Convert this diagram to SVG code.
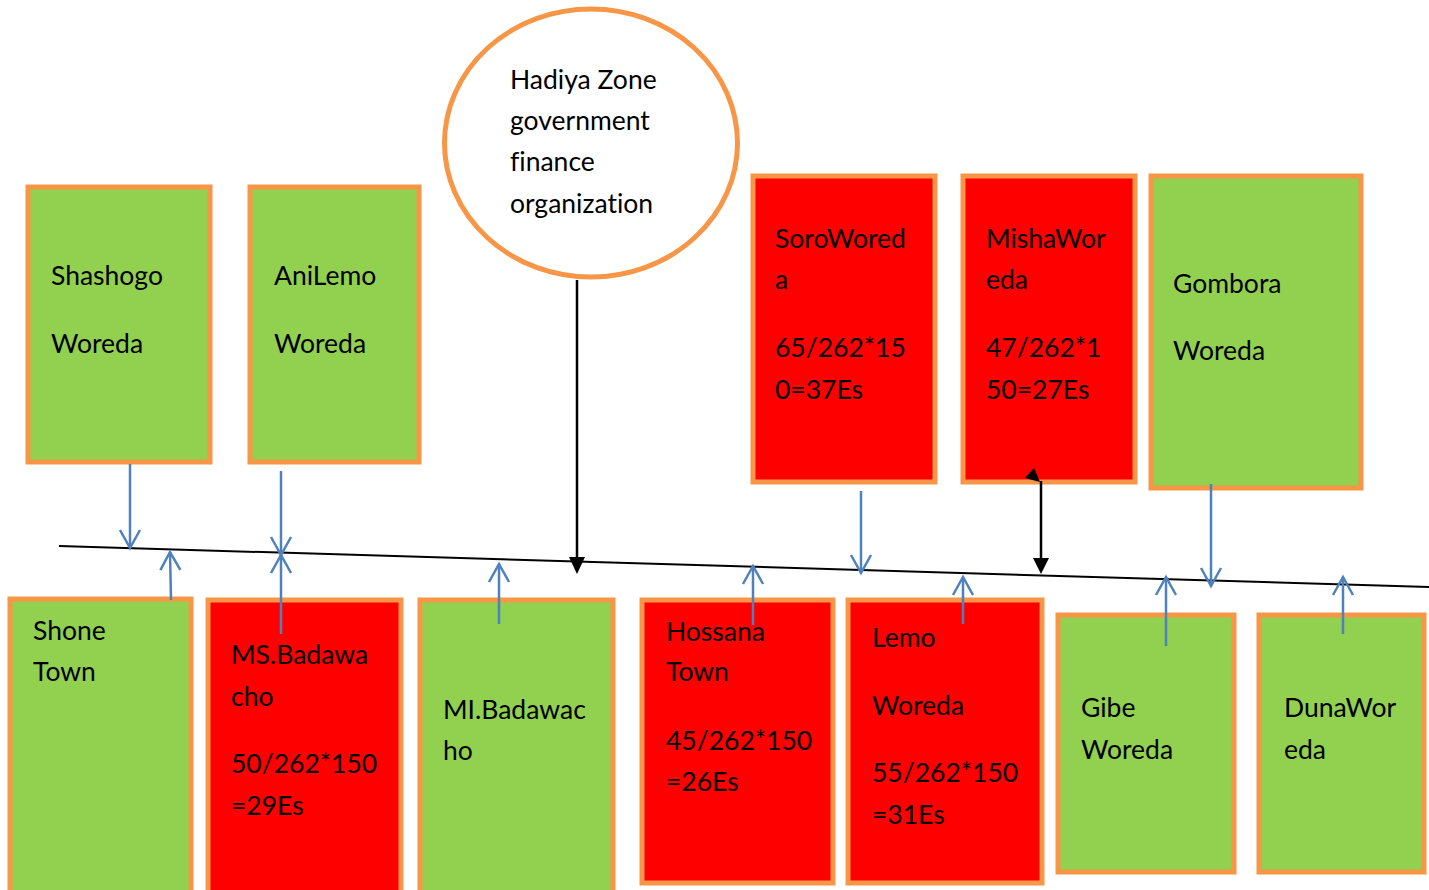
<svg xmlns="http://www.w3.org/2000/svg" width="1429" height="890" viewBox="0 0 1429 890">
<defs>
<style>
.g{fill:#92D050;stroke:#F79646;stroke-width:5}
.r{fill:#FF0000;stroke:#F79646;stroke-width:5}
text{font-family:Lato,"Liberation Sans",sans-serif;font-size:26.5px;fill:#000;font-variant-ligatures:none}
.b{stroke:#4F81BD;stroke-width:2.5;fill:none}
.k{stroke:#000;stroke-width:2.5;fill:none}
</style>
<marker id="va" viewBox="0 0 24 24" refX="21" refY="12" markerWidth="24" markerHeight="24" markerUnits="userSpaceOnUse" orient="auto">
<path d="M3,2 L21,12 L3,22" fill="none" stroke="#4F81BD" stroke-width="2.5"/>
</marker>
</defs>
<rect width="1429" height="890" fill="#fff"/>

<g id="shashogo"><rect class="g" x="28" y="187" width="182" height="275"/><text x="51" y="285">Shashogo</text><text x="51" y="353">Woreda</text></g>
<g id="anilemo"><rect class="g" x="250" y="187" width="169" height="275"/><text x="274" y="285">AniLemo</text><text x="274" y="353">Woreda</text></g>
<g id="hadiya"><ellipse cx="591" cy="143" rx="146.5" ry="134" fill="#fff" stroke="#F79646" stroke-width="5"/><text x="510" y="89">Hadiya Zone</text><text x="510" y="130">government</text><text x="510" y="171">finance</text><text x="510" y="213">organization</text></g>
<g id="soro"><rect class="r" x="753" y="176" width="182" height="306"/><text x="775" y="248">SoroWored</text><text x="775" y="289">a</text><text x="775" y="357">65/262*15</text><text x="775" y="399">0=37Es</text></g>
<g id="misha"><rect class="r" x="963" y="176" width="172" height="306"/><text x="986" y="248">MishaWor</text><text x="986" y="289">eda</text><text x="986" y="357">47/262*1</text><text x="986" y="399">50=27Es</text></g>
<g id="gombora"><rect class="g" x="1151" y="176" width="210" height="312"/><text x="1173" y="293">Gombora</text><text x="1173" y="360">Woreda</text></g>

<g id="shone"><rect class="g" x="10" y="599" width="181" height="295"/><text x="33" y="640">Shone</text><text x="33" y="681">Town</text></g>
<g id="msbadawacho"><rect class="r" x="208" y="600" width="193" height="294"/><text x="231" y="664">MS.Badawa</text><text x="231" y="706">cho</text><text x="231" y="773">50/262*150</text><text x="231" y="815">=29Es</text></g>
<g id="mibadawacho"><rect class="g" x="420" y="600" width="193" height="294"/><text x="443" y="719">MI.Badawac</text><text x="443" y="760">ho</text></g>
<g id="hossana"><rect class="r" x="642" y="600" width="191" height="283"/><text x="666" y="641">Hossana</text><text x="666" y="681">Town</text><text x="666" y="750">45/262*150</text><text x="666" y="791">=26Es</text></g>
<g id="lemo"><rect class="r" x="848" y="600" width="194" height="283"/><text x="872" y="647">Lemo</text><text x="872" y="715">Woreda</text><text x="872" y="782">55/262*150</text><text x="872" y="824">=31Es</text></g>
<g id="gibe"><rect class="g" x="1058" y="615" width="176" height="257"/><text x="1081" y="717">Gibe</text><text x="1081" y="759">Woreda</text></g>
<g id="duna"><rect class="g" x="1259" y="615" width="165" height="257"/><text x="1284" y="717">DunaWor</text><text x="1284" y="759">eda</text></g>

<g id="connectors">
<line x1="59" y1="546" x2="1429" y2="587" stroke="#000" stroke-width="2"/>
<line class="b" x1="130" y1="464" x2="130" y2="548" marker-end="url(#va)"/>
<line class="b" x1="171" y1="600" x2="170" y2="552" marker-end="url(#va)"/>
<line class="b" x1="281" y1="471" x2="281" y2="555" marker-end="url(#va)"/>
<line class="b" x1="281" y1="634" x2="281" y2="555" marker-end="url(#va)"/>
<line class="b" x1="499" y1="624" x2="499" y2="564" marker-end="url(#va)"/>
<line class="b" x1="753" y1="625" x2="753" y2="566" marker-end="url(#va)"/>
<line class="b" x1="861" y1="491" x2="861" y2="573" marker-end="url(#va)"/>
<line class="b" x1="963" y1="624" x2="963" y2="577" marker-end="url(#va)"/>
<line class="b" x1="1166" y1="646" x2="1166" y2="577" marker-end="url(#va)"/>
<line class="b" x1="1211" y1="484" x2="1211" y2="586" marker-end="url(#va)"/>
<line class="b" x1="1343" y1="634" x2="1343" y2="577" marker-end="url(#va)"/>
<line class="k" x1="577" y1="280" x2="577" y2="560"/>
<polygon points="569,557 585,557 577,574" fill="#000"/>
<line class="k" x1="1041" y1="481" x2="1041" y2="560"/>
<polygon points="1033,558 1049,558 1041,574" fill="#000"/>
<polygon points="1025,478 1034,468 1040,482" fill="#000"/>
</g>
</svg>
